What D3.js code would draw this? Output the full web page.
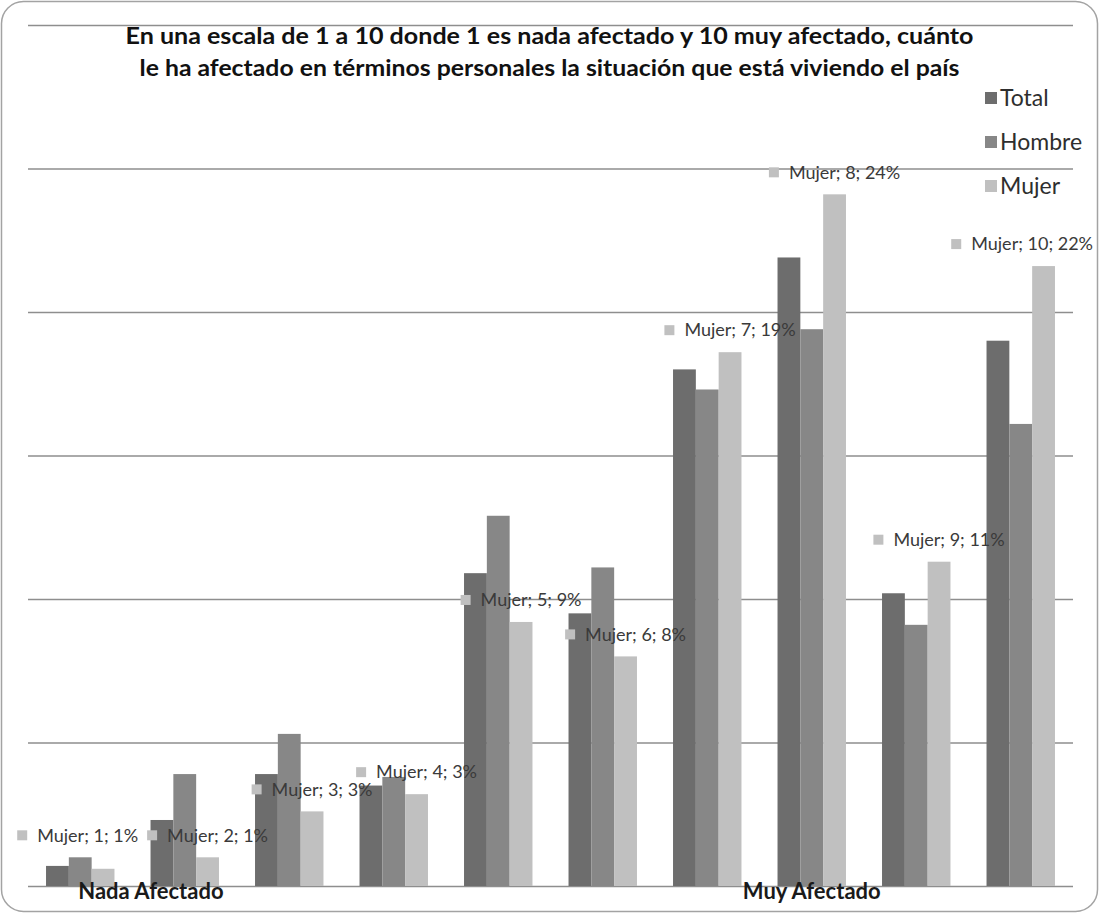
<!DOCTYPE html>
<html>
<head>
<meta charset="utf-8">
<script src="https://cdn.jsdelivr.net/npm/d3@7"></script>
<style>
  html, body { margin: 0; padding: 0; background: #ffffff; }
  svg { display: block; }
</style>
</head>
<body>
<svg id="chart" width="1099" height="913"></svg>
<script>
// Scale 1-10: how personally affected by the country's situation (% of respondents)
const categories = ["1", "2", "3", "4", "5", "6", "7", "8", "9", "10"];
const seriesNames = ["Total", "Hombre", "Mujer"];
const totalValues  = [0.7, 2.3, 3.9, 3.5, 10.9, 9.5, 18.0, 21.9, 10.2, 19.0];
const hombreValues = [1.0, 3.9, 5.3, 3.8, 12.9, 11.1, 17.3, 19.4, 9.1, 16.1];
const mujerValues  = [0.6, 1.0, 2.6, 3.2, 9.2, 8.0, 18.6, 24.1, 11.3, 21.6];
const yTicks = [0, 5, 10, 15, 20, 25, 30];
const titleLines = [
  "En una escala de 1 a 10 donde 1 es nada afectado y 10 muy afectado, cuánto",
  "le ha afectado en términos personales la situación que está viviendo el país"
];
const endLabels = { low: "Nada Afectado", high: "Muy Afectado" };

const seriesValues = { "Total": totalValues, "Hombre": hombreValues, "Mujer": mujerValues };
const colors = { "Total": "#6d6d6d", "Hombre": "#878787", "Mujer": "#c0c0c0" };

const svg = d3.select("#chart");
const W = 1099, H = 913;
const plot = { left: 28, right: 1073, top: 25, bottom: 886 };
const font = "Lato, 'Open Sans', sans-serif";

// outer rounded frame
svg.append("rect")
  .attr("x", 1.5).attr("y", 1.5)
  .attr("width", W - 3).attr("height", H - 3)
  .attr("rx", 22).attr("ry", 22)
  .attr("fill", "#ffffff")
  .attr("stroke", "#a3a3a3").attr("stroke-width", 1.5);

const y = d3.scaleLinear().domain([0, 30]).range([plot.bottom, plot.top]);
const x0 = d3.scaleBand().domain(categories)
  .range([plot.left, plot.right]).paddingInner(0.345).paddingOuter(0.1725);
const x1 = d3.scaleBand().domain(seriesNames).range([0, x0.bandwidth()]);

// horizontal gridlines (value axis has no labels)
const yAxis = d3.axisLeft(y).tickValues(yTicks)
  .tickSize(-(plot.right - plot.left)).tickFormat("");
const gy = svg.append("g").attr("transform", `translate(${plot.left},0)`).call(yAxis);
gy.select(".domain").remove();
gy.selectAll(".tick line").attr("stroke", "#8e8e8e").attr("stroke-width", 1.6);

// bars
const rows = categories.map((c, i) => ({ cat: c, vals: seriesNames.map(s => ({ s, v: seriesValues[s][i] })) }));
const groups = svg.append("g").selectAll("g").data(rows).join("g")
  .attr("transform", d => `translate(${x0(d.cat)},0)`);
groups.selectAll("rect").data(d => d.vals).join("rect")
  .attr("x", d => x1(d.s))
  .attr("y", d => y(d.v))
  .attr("width", x1.bandwidth())
  .attr("height", d => y(0) - y(d.v))
  .attr("fill", d => colors[d.s]);

// category end labels
svg.append("text")
  .attr("x", x0(categories[0]) + x0.bandwidth() / 2 - 2)
  .attr("y", 899)
  .attr("font-family", font).attr("font-weight", "bold").attr("font-size", 22)
  .attr("fill", "#1a1a1a")
  .text(endLabels.low);
svg.append("text")
  .attr("x", x0(categories[7]) + x0.bandwidth() / 2)
  .attr("y", 899)
  .attr("text-anchor", "middle")
  .attr("font-family", font).attr("font-weight", "bold").attr("font-size", 22)
  .attr("fill", "#1a1a1a")
  .text(endLabels.high);

// data labels for the Mujer series, with legend key
const fmt = d3.format(".0f");
const labelLayer = svg.append("g");
const labels = categories.map((c, i) => {
  const v = mujerValues[i];
  const g = labelLayer.append("g");
  g.append("rect").attr("x", 0).attr("y", -5).attr("width", 10).attr("height", 10)
    .attr("fill", colors["Mujer"]);
  const t = g.append("text").attr("x", 20).attr("y", 0)
    .attr("dy", "0.35em")
    .attr("font-family", font).attr("font-size", 18)
    .attr("fill", "#3a3a3a")
    .text(`Mujer; ${c}; ${fmt(v)}%`);
  const w = 20 + t.node().getComputedTextLength();
  const cx = x0(c) + x1("Mujer") + x1.bandwidth() / 2;
  let left = cx - w / 2;
  if (left + w > W - 6) left = W - 6 - w;
  return { g, w, left, cy: y(v) - 22 };
});
// resolve overlaps between neighbouring labels
for (let i = labels.length - 2; i >= 0; i--) {
  const a = labels[i], b = labels[i + 1];
  const hOverlap = a.left + a.w + 9 > b.left;
  const vOverlap = Math.abs(a.cy - b.cy) < 16;
  if (hOverlap && vOverlap) {
    a.left = b.left - 9 - a.w;
    a.cy = Math.min(a.cy, b.cy);
  }
}
labels.forEach(l => l.g.attr("transform", `translate(${l.left},${l.cy})`));

// title
titleLines.forEach((line, i) => {
  const t = svg.append("text")
    .attr("x", W / 2).attr("y", 44 + i * 32)
    .attr("text-anchor", "middle")
    .attr("font-family", font).attr("font-weight", "bold").attr("font-size", 23)
    .attr("fill", "#111111")
    .text(line);
  const target = i === 0 ? 848 : 820;
  t.attr("textLength", target).attr("lengthAdjust", "spacingAndGlyphs");
});

// legend
const legend = svg.append("g").attr("transform", "translate(985,98)");
seriesNames.forEach((s, i) => {
  const g = legend.append("g").attr("transform", `translate(0,${i * 44})`);
  g.append("rect").attr("x", 0).attr("y", -6).attr("width", 12).attr("height", 12)
    .attr("fill", colors[s]);
  g.append("text").attr("x", 15).attr("y", 0).attr("dy", "0.35em")
    .attr("font-family", font).attr("font-size", 23)
    .attr("fill", "#2e2e2e")
    .text(s);
});
</script>
</body>
</html>
